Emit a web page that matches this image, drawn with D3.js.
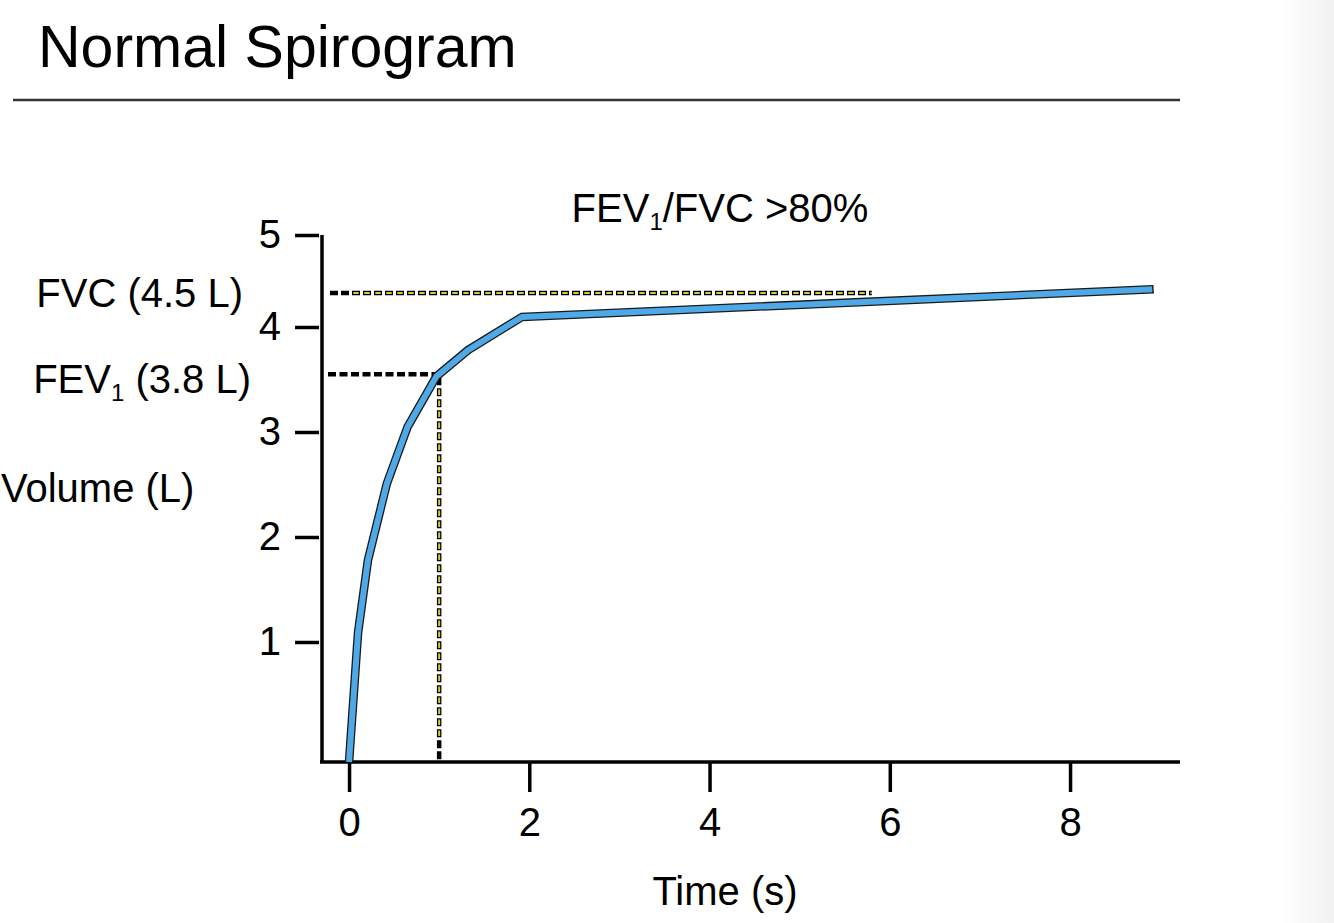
<!DOCTYPE html>
<html>
<head>
<meta charset="utf-8">
<script src="https://cdn.jsdelivr.net/npm/d3@7"></script>
<style>
  body { margin: 0; background: #fff; }
  svg text { font-family: "Liberation Sans", Arial, Helvetica, sans-serif; fill: #000; }
</style>
</head>
<body>
<svg id="chart" width="1334" height="923"></svg>
<script>
// spirogram readings, time in seconds / volume in litres
const timeS = [0, 0.1, 0.21, 0.42, 0.65, 0.97, 1.32, 1.92, 8.92];
const volumeL = [0, 1.09, 1.78, 2.51, 3.05, 3.53, 3.78, 4.11, 4.41];

const xTicks = [0, 2, 4, 6, 8];
const yTicks = [1, 2, 3, 4, 5];

// marker levels
const fev1Time = 1;
const fev1Level = 3.55;
const fvcLevel = 4.37;
const fvcLineEnd = 5.8;

const svg = d3.select("#chart");

// faint grey edge on the right of the slide
const defs = svg.append("defs");
const grad = defs.append("linearGradient").attr("id", "edge");
grad.append("stop").attr("offset", "0%").attr("stop-color", "#ffffff");
grad.append("stop").attr("offset", "100%").attr("stop-color", "#f2f2f2");
svg.append("rect").attr("x", 1280).attr("y", 0).attr("width", 54).attr("height", 923).attr("fill", "url(#edge)");

// title + rule
svg.append("text").text("Normal Spirogram")
  .attr("x", 38).attr("y", 67).style("font-size", "59px");
svg.append("line")
  .attr("x1", 13).attr("x2", 1180).attr("y1", 100).attr("y2", 100)
  .attr("stroke", "#333").attr("stroke-width", 2.5);

const x = d3.scaleLinear().domain([-0.3, 9.22]).range([322, 1180]);
// the slide's y ticks are not evenly spaced, so use a piecewise scale
const y = d3.scaleLinear().domain([0, 1, 4, 5]).range([762, 642, 327, 235]);

const addAxes = () => {
  const xAxis = d3.axisBottom(x).tickValues(xTicks).tickSize(30).tickSizeOuter(0).tickPadding(16);
  const gx = svg.append("g").attr("transform", "translate(0,762)").call(xAxis);
  gx.select(".domain").remove();
  gx.selectAll(".tick line").attr("stroke", "#000").attr("stroke-width", 3.5);
  gx.selectAll(".tick text").style("font-size", "40px").attr("font-family", null);

  const yAxis = d3.axisLeft(y).tickValues(yTicks).tickFormat(d3.format("d"))
    .tickSize(24).tickSizeOuter(0).tickPadding(14);
  const gy = svg.append("g").attr("transform", "translate(319,0)").call(yAxis);
  gy.select(".domain").remove();
  gy.selectAll(".tick line").attr("stroke", "#000").attr("stroke-width", 3.5);
  gy.selectAll(".tick text").style("font-size", "40px").attr("font-family", null);

  // axis lines
  svg.append("line")
    .attr("x1", x(-0.3)).attr("x2", x(-0.3)).attr("y1", y(5)).attr("y2", y(0))
    .attr("stroke", "#000").attr("stroke-width", 3.5);
  svg.append("line")
    .attr("x1", x(-0.3) - 2).attr("x2", x(9.22)).attr("y1", y(0)).attr("y2", y(0))
    .attr("stroke", "#000").attr("stroke-width", 3.5);
};

// black dashes with a yellow core, like the slide's markers
const dashLine = (x1, y1, x2, y2, skipStart, skipEnd) => {
  svg.append("line")
    .attr("x1", x1).attr("y1", y1).attr("x2", x2).attr("y2", y2)
    .attr("stroke", "#000").attr("stroke-width", 4.5).attr("stroke-dasharray", "8 3");
  const period = 11;
  const len = Math.hypot(x2 - x1, y2 - y1);
  const ux = (x2 - x1) / len, uy = (y2 - y1) / len;
  const s = skipStart * period + 1.3;
  const e = len - skipEnd * period;
  svg.append("line")
    .attr("x1", x1 + ux * s).attr("y1", y1 + uy * s)
    .attr("x2", x1 + ux * e).attr("y2", y1 + uy * e)
    .attr("stroke", "#d2cc3c").attr("stroke-width", 2).attr("stroke-dasharray", "5.4 5.6");
};

const addMarkers = () => {
  // FVC
  dashLine(x(-0.3) + 8, y(fvcLevel), x(fvcLineEnd), y(fvcLevel), 2, 0);
  // FEV1 horizontal (black only)
  svg.append("line")
    .attr("x1", x(-0.3) + 6).attr("x2", x(fev1Time) - 3)
    .attr("y1", y(fev1Level)).attr("y2", y(fev1Level))
    .attr("stroke", "#000").attr("stroke-width", 4.5).attr("stroke-dasharray", "8 3.5");
  // FEV1 vertical
  dashLine(x(fev1Time), y(fev1Level) + 3, x(fev1Time), y(0) - 2, 1, 2);
};

const addCurve = () => {
  const pts = timeS.map((t, i) => [x(t), y(volumeL[i])]);
  const line = d3.line();
  svg.append("path").attr("d", line(pts))
    .attr("fill", "none").attr("stroke", "#1a1a1a").attr("stroke-width", 8.6)
    .attr("stroke-linejoin", "miter").attr("stroke-linecap", "butt");
  svg.append("path").attr("d", line(pts))
    .attr("fill", "none").attr("stroke", "#4fa9e6").attr("stroke-width", 6)
    .attr("stroke-linejoin", "miter").attr("stroke-linecap", "butt");
  // closed end cap of the band
  const n = pts.length - 1;
  const a = Math.atan2(pts[n][1] - pts[n - 1][1], pts[n][0] - pts[n - 1][0]);
  const nx = -Math.sin(a) * 4.3, ny = Math.cos(a) * 4.3;
  svg.append("line")
    .attr("x1", pts[n][0] + nx).attr("y1", pts[n][1] + ny)
    .attr("x2", pts[n][0] - nx).attr("y2", pts[n][1] - ny)
    .attr("stroke", "#1a1a1a").attr("stroke-width", 1.4);
};

const addText = () => {
  const sub = (sel, before, subTxt, after) => {
    sel.append("tspan").text(before);
    sel.append("tspan").text(subTxt).attr("dy", 8).style("font-size", "24px");
    sel.append("tspan").text(after).attr("dy", -8);
  };
  sub(svg.append("text").attr("x", 720).attr("y", 222).attr("text-anchor", "middle").style("font-size", "40px"),
    "FEV", "1", "/FVC >80%");
  svg.append("text").text("FVC (4.5 L)")
    .attr("x", 243).attr("y", 307).attr("text-anchor", "end").style("font-size", "40px");
  sub(svg.append("text").attr("x", 251).attr("y", 393).attr("text-anchor", "end").style("font-size", "40px"),
    "FEV", "1", " (3.8 L)");
  svg.append("text").text("Volume (L)")
    .attr("x", 1).attr("y", 502).style("font-size", "40px");
  svg.append("text").text("Time (s)")
    .attr("x", 725).attr("y", 905).attr("text-anchor", "middle").style("font-size", "40px");
};

addAxes();
addMarkers();
addCurve();
addText();
</script>
</body>
</html>
